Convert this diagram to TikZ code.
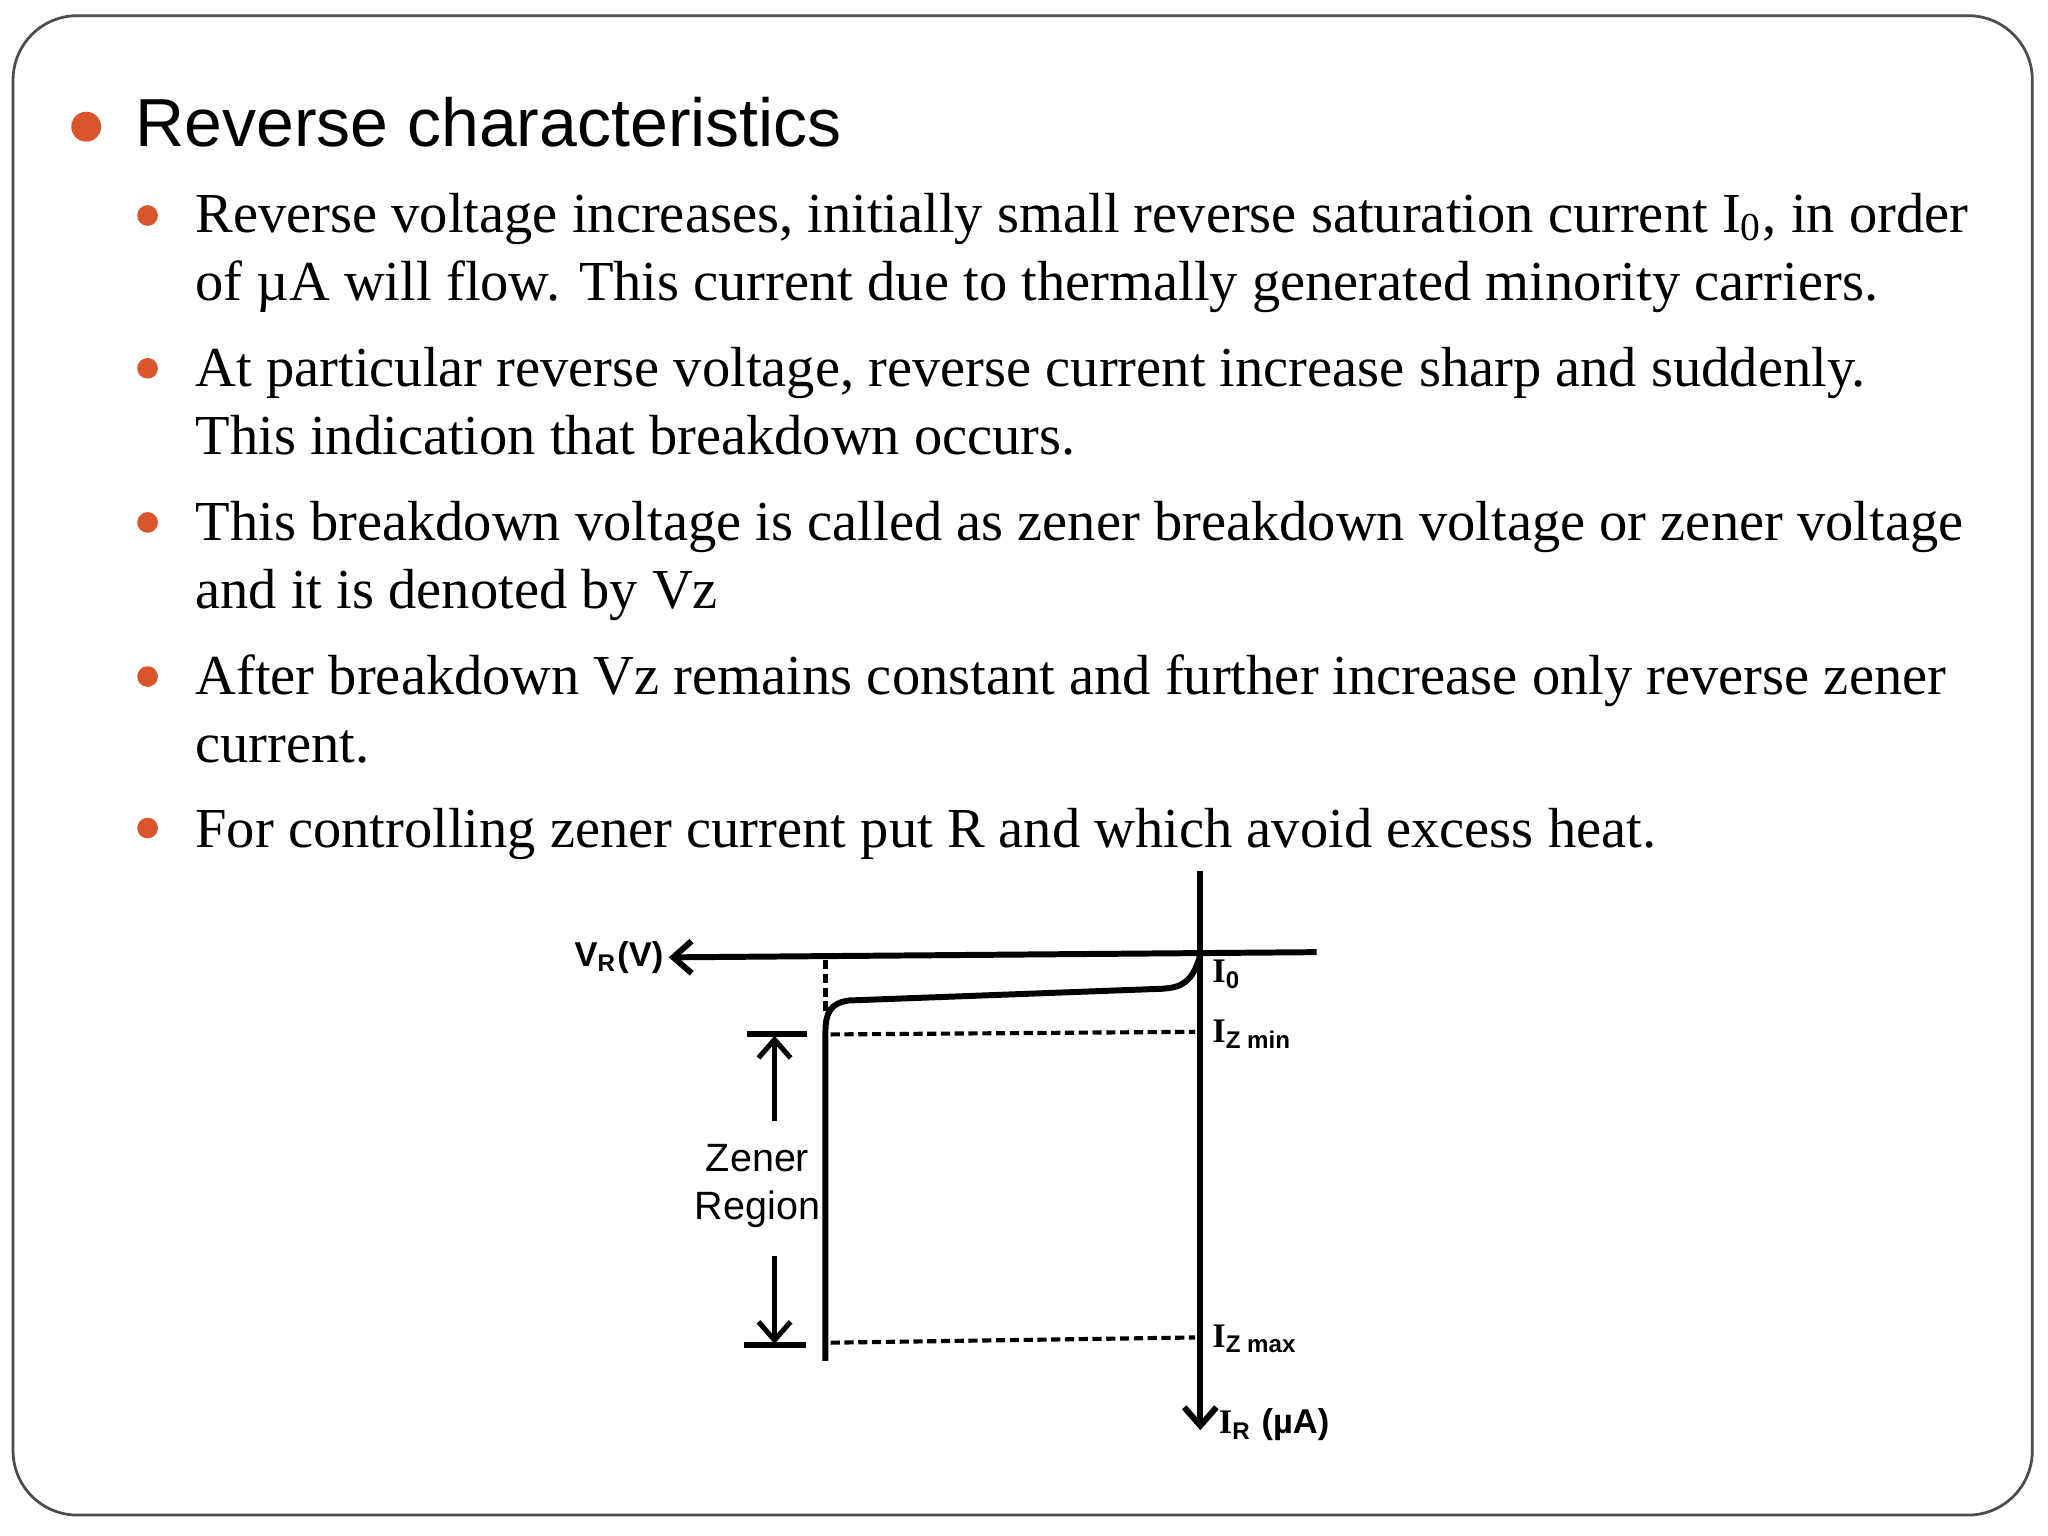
\documentclass[tikz,border=0pt]{standalone}
\usepackage{fontspec}
\setmainfont{Liberation Serif}
\newfontfamily\hd{Liberation Sans}
\usetikzlibrary{arrows.meta}
\definecolor{bul}{HTML}{D9552B}
\begin{document}
\begin{tikzpicture}[x=0.01cm,y=-0.01cm,
  body/.style={anchor=base west,inner sep=0,font=\fontsize{12.3}{14}\selectfont},
  dot/.style={circle,fill=bul,inner sep=0,minimum size=#1},
  lab/.style={inner sep=1pt,font=\hd\fontsize{7.5}{8}\selectfont},
  ax/.style={line width=1.3pt},
  dsh/.style={line width=0.9pt,dash pattern=on 2pt off 1pt}]
\useasboundingbox (0,0) rectangle (1568,1176);
\draw[black!70,line width=0.6pt,rounded corners=14pt] (10,12) rectangle (1556,1160);
\node[dot=6.5pt] (b0) at (66,97) {};
\node[anchor=base west,inner sep=0,font=\hd\fontsize{14.8}{16}\selectfont] (t0) at (103,112) {Reverse characteristics};
\foreach \y/\n in {165/b1,282/b2,400/b3,518/b4,634/b5}{\node[dot=4.5pt] (\n) at (113,\y) {};}
\node[body] (l1) at (149,178) {Reverse voltage increases, initially small reverse saturation current I\textsubscript{0}, in order};
\node[body] (l2) at (149,230) {of µA will flow. This current due to thermally generated minority carriers.};
\node[body] (l3) at (149,296) {At particular reverse voltage, reverse current increase sharp and suddenly.};
\node[body] (l4) at (149,348) {This indication that breakdown occurs.};
\node[body] (l5) at (149,414) {This breakdown voltage is called as zener breakdown voltage or zener voltage};
\node[body] (l6) at (149,466) {and it is denoted by Vz};
\node[body] (l7) at (149,532) {After breakdown Vz remains constant and further increase only reverse zener};
\node[body] (l8) at (149,584) {current.};
\node[body] (l9) at (149,649) {For controlling zener current put R and which avoid excess heat.};
% diagram
\coordinate (vt) at (919,667); \coordinate (vb) at (919,1095);
\coordinate (hr) at (1008,729); \coordinate (hl) at (512,733);
\draw[ax,-{Straight Barb[length=4pt,width=7pt]}] (vt) -- (vb);
\draw[ax,-{Straight Barb[length=4pt,width=7pt]}] (hr) -- (hl);
\node[lab,anchor=east] (vr) at (hl) {\bfseries V\textsubscript{R}(V)};
\draw[ax] (919,731) .. controls (913,752) and (905,756) .. (890,757) -- (650,766) .. controls (636,768) and (632,775) .. (632,790) -- (632,1042);
\draw[dsh] (632,735) -- (632,775);
\draw[dsh] (636,792) -- (915,790);
\draw[dsh] (636,1028) -- (915,1024);
\draw[ax] (572,792) -- (618,792);
\draw[ax] (570,1030) -- (617,1030);
\draw[line width=1.1pt,-{Straight Barb[length=4pt,width=7pt]}] (593,858) -- (593,793);
\draw[line width=1.1pt,-{Straight Barb[length=4pt,width=7pt]}] (593,962) -- (593,1029);
\node[lab,align=center,font=\hd\fontsize{8.6}{10.5}\selectfont] (zr) at (580,908) {Zener\\Region};
\node[lab,anchor=west] (i0) at (924,746) {{\rmfamily\bfseries I}\textsubscript{\bfseries 0}};
\node[lab,anchor=west] (izmin) at (924,792) {{\rmfamily\bfseries I}\textsubscript{\bfseries Z min}};
\node[lab,anchor=west] (izmax) at (924,1025) {{\rmfamily\bfseries I}\textsubscript{\bfseries Z max}};
\node[lab,anchor=west] (ir) at (929,1091) {\bfseries{\rmfamily I}\textsubscript{R} (µA)};
\end{tikzpicture}
\end{document}
